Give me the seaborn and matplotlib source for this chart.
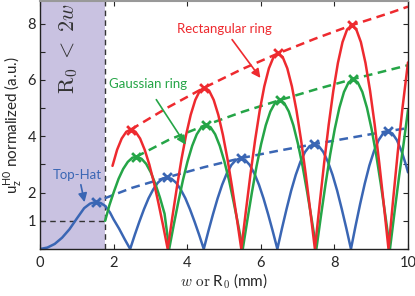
import matplotlib
matplotlib.use("Agg")
import matplotlib.pyplot as plt
import seaborn as sns
from matplotlib.ticker import FixedLocator, FixedFormatter

# ---- data ----
# Top-Hat (blue)
hat_x = [0, 0.2, 0.4, 0.6, 0.8, 1.0, 1.2, 1.36, 1.52, 1.65, 1.77, 1.9, 2.0, 2.15, 2.3, 2.45,
         2.575, 2.7, 2.825, 2.95, 3.075, 3.2, 3.325, 3.45, 3.575, 3.7, 3.825, 3.95, 4.075, 4.2, 4.325, 4.45,
         4.575, 4.7, 4.825, 4.95, 5.075, 5.2, 5.325, 5.45, 5.575, 5.7, 5.825, 5.95, 6.075, 6.2, 6.325, 6.45,
         6.575, 6.7, 6.825, 6.95, 7.075, 7.2, 7.325, 7.45, 7.575, 7.7, 7.825, 7.95, 8.075, 8.2, 8.325, 8.45,
         8.575, 8.7, 8.825, 8.95, 9.075, 9.2, 9.325, 9.45, 9.575, 9.7, 9.825, 9.95, 10.0]
hat_y = [0, 0.05, 0.18, 0.4, 0.7, 1.08, 1.45, 1.61, 1.67, 1.63, 1.53, 1.3, 1.05, 0.72, 0.35, 0,
         0.50, 0.97, 1.41, 1.80, 2.11, 2.35, 2.49, 2.54, 2.49, 2.35, 2.11, 1.80, 1.41, 0.97, 0.50, 0,
         0.63, 1.23, 1.79, 2.28, 2.68, 2.98, 3.16, 3.22, 3.16, 2.98, 2.68, 2.28, 1.79, 1.23, 0.63, 0,
         0.73, 1.42, 2.07, 2.63, 3.09, 3.44, 3.65, 3.72, 3.65, 3.44, 3.09, 2.63, 2.07, 1.42, 0.73, 0,
         0.82, 1.60, 2.32, 2.96, 3.47, 3.86, 4.10, 4.18, 4.10, 3.86, 3.47, 2.96, 2.72]
hat_peak_x = [1.52, 3.45, 5.45, 7.45, 9.45]
hat_peak_y = [1.67, 2.54, 3.22, 3.72, 4.18]
hat_env_x = [1.76, 2.5, 3.45, 4.45, 5.45, 6.45, 7.45, 8.45, 9.45, 10.0]
hat_env_y = [1.80, 2.17, 2.54, 2.9, 3.22, 3.48, 3.72, 3.95, 4.18, 4.29]

# Rectangular ring (red)
rect_x = [1.97, 2.095, 2.22, 2.345, 2.47, 2.595, 2.72, 2.845, 2.97, 3.095, 3.22, 3.345, 3.47,
          3.595, 3.72, 3.845, 3.97, 4.095, 4.22, 4.345, 4.47, 4.595, 4.72, 4.845, 4.97, 5.095, 5.22, 5.345, 5.47,
          5.595, 5.72, 5.845, 5.97, 6.095, 6.22, 6.345, 6.47, 6.595, 6.72, 6.845, 6.97, 7.095, 7.22, 7.345, 7.47,
          7.595, 7.72, 7.845, 7.97, 8.095, 8.22, 8.345, 8.47, 8.595, 8.72, 8.845, 8.97, 9.095, 9.22, 9.345, 9.47,
          9.595, 9.72, 9.845, 9.97, 10.0]
rect_y = [2.95, 3.52, 3.92, 4.16, 4.24, 4.16, 3.92, 3.52, 3.00, 2.36, 1.62, 0.83, 0,
          1.12, 2.19, 3.19, 4.05, 4.76, 5.29, 5.62, 5.73, 5.62, 5.29, 4.76, 4.05, 3.19, 2.19, 1.12, 0,
          1.35, 2.66, 3.86, 4.91, 5.77, 6.41, 6.81, 6.94, 6.81, 6.41, 5.77, 4.91, 3.86, 2.66, 1.35, 0,
          1.55, 3.04, 4.41, 5.61, 6.60, 7.34, 7.79, 7.94, 7.79, 7.34, 6.60, 5.61, 4.41, 3.04, 1.55, 0,
          1.74, 3.41, 4.95, 6.30, 6.62]
rect_peak_x = [2.47, 4.47, 6.47, 8.47]
rect_peak_y = [4.24, 5.73, 6.94, 7.94]
rect_env_x = [2.47, 3.47, 4.47, 5.47, 6.47, 7.47, 8.47, 9.47, 10.0]
rect_env_y = [4.24, 5.02, 5.73, 6.37, 6.94, 7.46, 7.94, 8.36, 8.6]

# Gaussian ring (green)
gauss_x = [1.77, 1.885, 2.01, 2.135, 2.26, 2.385, 2.51, 2.635, 2.76, 2.885, 3.01, 3.135, 3.26, 3.385, 3.51,
           3.635, 3.76, 3.885, 4.01, 4.135, 4.26, 4.385, 4.51, 4.635, 4.76, 4.885, 5.01, 5.135, 5.26, 5.385, 5.51,
           5.635, 5.76, 5.885, 6.01, 6.135, 6.26, 6.385, 6.51, 6.635, 6.76, 6.885, 7.01, 7.135, 7.26, 7.385, 7.51,
           7.635, 7.76, 7.885, 8.01, 8.135, 8.26, 8.385, 8.51, 8.635, 8.76, 8.885, 9.01, 9.135, 9.26, 9.385, 9.51,
           9.635, 9.76, 9.885, 10.0]
gauss_y = [1.0, 1.55, 2.04, 2.49, 2.84, 3.09, 3.24, 3.27, 3.20, 3.02, 2.72, 2.31, 1.82, 1.25, 0,
           0.86, 1.68, 2.45, 3.11, 3.66, 4.07, 4.32, 4.40, 4.32, 4.07, 3.66, 3.11, 2.45, 1.68, 0.86, 0,
           1.03, 2.02, 2.94, 3.73, 4.39, 4.88, 5.18, 5.28, 5.18, 4.88, 4.39, 3.73, 2.94, 2.02, 1.03, 0,
           1.18, 2.31, 3.35, 4.26, 5.01, 5.57, 5.91, 6.03, 5.91, 5.57, 5.01, 4.26, 3.35, 2.31, 1.18, 0,
           1.32, 2.60, 3.78, 4.93]
gauss_peak_x = [2.61, 4.51, 6.51, 8.51]
gauss_peak_y = [3.27, 4.40, 5.28, 6.03]
gauss_env_x = [2.61, 3.51, 4.51, 5.51, 6.51, 7.51, 8.51, 9.51, 10.0]
gauss_env_y = [3.27, 3.88, 4.40, 4.87, 5.28, 5.67, 6.03, 6.36, 6.52]

BLUE = "#3a66b4"
RED = "#ee2a2f"
GREEN = "#25a547"
SHADE = "#c9c2e1"

sns.set_style("ticks")
plt.rcParams["font.family"] = ["Lato", "DejaVu Sans"]

fig = plt.figure(figsize=(4.15, 2.96), dpi=100)
ax = fig.add_axes([40 / 415, 1 - 249 / 296, 368 / 415, 248 / 296])

ax.axvspan(0, 1.76, color=SHADE, lw=0, zorder=0)
ax.axvline(1.76, color="#333333", lw=1.0, ls=(0, (4, 3)), zorder=1)
ax.hlines(1, 0, 1.76, color="#333333", lw=1.0, ls=(0, (4, 3)), zorder=1)

dash = (0, (3.5, 2.2))
for ex, ey, c in [(hat_env_x, hat_env_y, BLUE), (gauss_env_x, gauss_env_y, GREEN), (rect_env_x, rect_env_y, RED)]:
    sns.lineplot(x=ex, y=ey, color=c, lw=1.8, ax=ax, estimator=None, sort=False)
    ax.lines[-1].set_linestyle(dash)

sns.lineplot(x=hat_x, y=hat_y, color=BLUE, lw=1.8, ax=ax, estimator=None, sort=False)
sns.lineplot(x=gauss_x, y=gauss_y, color=GREEN, lw=1.8, ax=ax, estimator=None, sort=False)
sns.lineplot(x=rect_x, y=rect_y, color=RED, lw=1.8, ax=ax, estimator=None, sort=False)

for px, py, c in [(hat_peak_x, hat_peak_y, BLUE), (gauss_peak_x, gauss_peak_y, GREEN), (rect_peak_x, rect_peak_y, RED)]:
    sns.scatterplot(x=px, y=py, color=c, marker="x", s=40, linewidth=2.0, ax=ax, zorder=5)

# labels + arrows
ax.text(5.01, 7.79, "Rectangular ring", color=RED, fontsize=9.5, ha="center", va="center")
ax.annotate("", xy=(5.99, 6.07), xytext=(5.22, 7.43),
            arrowprops=dict(arrowstyle="-|>", color=RED, lw=1.2, mutation_scale=13, shrinkA=0, shrinkB=0))
ax.text(2.94, 5.87, "Gaussian ring", color=GREEN, fontsize=9.5, ha="center", va="center")
ax.annotate("", xy=(3.96, 3.7), xytext=(3.16, 5.3),
            arrowprops=dict(arrowstyle="-|>", color=GREEN, lw=1.2, mutation_scale=13, shrinkA=0, shrinkB=0))
ax.text(1.02, 2.63, "Top-Hat", color=BLUE, fontsize=9.5, ha="center", va="center")
ax.annotate("", xy=(1.21, 1.66), xytext=(1.11, 2.28),
            arrowprops=dict(arrowstyle="-|>", color=BLUE, lw=1.2, mutation_scale=13, shrinkA=0, shrinkB=0))

ax.text(0.79, 7.12, r"$\mathrm{R}_0\;<\;2w$", rotation=90, ha="center", va="center",
        fontsize=16, color="#333333", math_fontfamily="cm")

ax.set_xlim(0, 10)
ax.set_ylim(0, 8.8)
ax.xaxis.set_major_locator(FixedLocator([0, 2, 4, 6, 8, 10]))
ax.yaxis.set_major_locator(FixedLocator([0, 1, 2, 3, 4, 5, 6, 7, 8]))
ax.yaxis.set_major_formatter(FixedFormatter(["", "1", "2", "", "4", "", "6", "", "8"]))
ax.tick_params(direction="in", length=3.5, width=0.8, top=True, right=True, labelsize=10.5)
ax.tick_params(axis="x", pad=5)
ax.tick_params(axis="y", pad=3)

for s in ["left", "bottom", "right"]:
    ax.spines[s].set_color("#222222")
    ax.spines[s].set_linewidth(1.0)
ax.spines["top"].set_color("#999999")
ax.spines["top"].set_linewidth(1.5)

ax.set_xlabel(r"$w\ \mathrm{or}$ R$_0$ (mm)", fontsize=11, labelpad=1, math_fontfamily="cm")
ax.set_ylabel(r"u$_\mathregular{z}^\mathregular{H0}$ normalized (a.u.)", fontsize=11, labelpad=2)

fig.savefig("out.png", dpi=100)
